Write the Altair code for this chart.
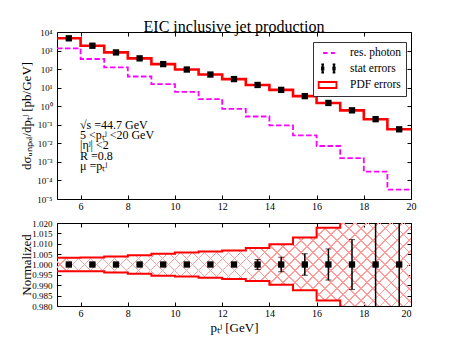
import altair as alt
import pandas as pd

bin_lo = [5, 6, 7, 8, 9, 10, 11, 12, 13, 14, 15, 16, 17, 18, 19]
bin_hi = [6, 7, 8, 9, 10, 11, 12, 13, 14, 15, 16, 17, 18, 19, 20]
bin_mid = [5.5, 6.5, 7.5, 8.5, 9.5, 10.5, 11.5, 12.5, 13.5, 14.5, 15.5, 16.5, 17.5, 18.5, 19.5]
xsec = [4570, 1820, 794, 380, 186, 95, 51, 29, 14, 7.6, 3.5, 1.5, 0.6, 0.2, 0.057]
res_photon = [1300, 350, 123, 40, 15.5, 5.9, 2.4, 0.72, 0.28, 0.093, 0.027, 0.0072, 0.0016, 0.0003, 0.000032]
pdf_up = [0.0032, 0.0034, 0.0038, 0.0045, 0.0052, 0.0058, 0.0063, 0.0067, 0.008, 0.0097, 0.013, 0.0177, 0.022, 0.022, 0.022]
pdf_dn = [0.0032, 0.0033, 0.0039, 0.0045, 0.0054, 0.0058, 0.0064, 0.007, 0.008, 0.0097, 0.0124, 0.0174, 0.022, 0.022, 0.022]
stat_err = [0.0001, 0.0001, 0.0002, 0.0002, 0.0003, 0.0004, 0.0006, 0.001, 0.0024, 0.0035, 0.0052, 0.0075, 0.012, 0.05, 0.08]

x_ticks = [6, 8, 10, 12, 14, 16, 18, 20]
y_ticks_top = [1e-5, 1e-4, 1e-3, 1e-2, 1e-1, 1e0, 1e1, 1e2, 1e3, 1e4]
y_ticks_norm = [0.980, 0.985, 0.990, 0.995, 1.000, 1.005, 1.010, 1.015, 1.020]
series = ["res. photon", "stat errors", "PDF errors"]
series_colors = ["#ff00ff", "#000000", "#ff0000"]
info_lines = ["\u221as =44.7 GeV", "5 <p\u209c\u02b2 <20 GeV", "|\u03b7\u02b2| <2", "R =0.8", "\u03bc =p\u209c\u02b2"]
title_text = "EIC inclusive jet production"

FONT = "Liberation Serif"
W_TOP, H_TOP, H_BOT = 354, 167, 83
SYM_SIZE = 144
SYM_SCALE = 9.0  # px per path unit as rendered in the legend


# ---- styling helpers (legend symbols, hatch pattern) ----
def _seg(x1, y1, x2, y2):
    k = SYM_SCALE
    return "M%.3f,%.3fL%.3f,%.3f" % (x1 / k, y1 / k, x2 / k, y2 / k)


def _stat_sym(cx):
    p = ""
    for yy in (-1.8, -0.6, 0.6, 1.8):
        p += _seg(cx - 2.5, yy, cx + 2.5, yy)
    p += _seg(cx, -6, cx, 6)
    p += _seg(cx - 2, -6, cx + 2, -6)
    p += _seg(cx - 2, 6, cx + 2, 6)
    return p


def _box(x1, y1, x2, y2):
    k = SYM_SCALE
    return "M%.3f,%.3fL%.3f,%.3fL%.3f,%.3fL%.3f,%.3fZ" % (
        x1 / k, y1 / k, x2 / k, y1 / k, x2 / k, y2 / k, x1 / k, y2 / k)


sym_paths = [
    _seg(-1.3, 0, 5.3, 0) + _seg(10.3, 0, 16.3, 0),
    _stat_sym(-2) + _stat_sym(15),
    _box(-8, -4.5, 18.7, 4.5),
]


def hatch(direction, bw, bh, period=12.0, frac=0.12, col="#ff9c9c"):
    s = (bw + bh) * bw / (bw * bw + bh * bh)
    n = int(round((bw * bw + bh * bh) / bw * s / period))
    stops = []
    clear = "rgba(255,255,255,0)"
    for k in range(n):
        a = k / n
        b = (k + frac) / n
        stops += [alt.GradientStop(offset=a, color=col), alt.GradientStop(offset=b, color=col),
                  alt.GradientStop(offset=b, color=clear), alt.GradientStop(offset=(k + 1) / n, color=clear)]
    if direction == 1:
        return alt.LinearGradient(gradient="linear", stops=stops, x1=0, y1=1, x2=s, y2=1 - s * bh / bw)
    return alt.LinearGradient(gradient="linear", stops=stops, x1=0, y1=0, x2=s, y2=s * bh / bw)


step = pd.DataFrame({
    "x": bin_lo + [bin_hi[-1]],
    "xsec": xsec + [xsec[-1]],
    "res": res_photon + [res_photon[-1]],
    "up": [1 + u for u in pdf_up] + [1 + pdf_up[-1]],
    "dn": [1 - d for d in pdf_dn] + [1 - pdf_dn[-1]],
})
pts = pd.DataFrame({
    "x": bin_mid,
    "xsec": xsec,
    "one": [1.0] * len(bin_mid),
    "lo": [1 - e for e in stat_err],
    "hi": [1 + e for e in stat_err],
})

xscale = alt.Scale(domain=[5, 20], nice=False, zero=False)
xaxis = alt.Axis(values=x_ticks, title=None, labelFontSize=10, labelPadding=2,
                 offset=-4, tickSize=4, domain=False, grid=False, labelFlush=False)
x_mirror = alt.Axis(orient="top", values=x_ticks, title=None, labels=False, offset=-4, tickSize=4,
                    domain=False, grid=False)

top_y_axis = alt.Axis(
    values=y_ticks_top,
    title="d\u03c3\u1d64\u2099\u209a\u2092\u2097/dp\u209c\u02b2 [pb/GeV]",
    labelExpr="'10' + (round(log(datum.value)/LN10) < 0 ? '\u207b' : '') + "
              "['\u2070','\u00b9','\u00b2','\u00b3','\u2074','\u2075','\u2076','\u2077','\u2078','\u2079'][abs(round(log(datum.value)/LN10))]",
    labelFontSize=9, labelPadding=5, offset=-4, tickSize=4, domain=False, grid=False,
    minExtent=25, maxExtent=25, titlePadding=3, titleFontSize=13,
)
top_y_mirror = alt.Axis(orient="right", values=y_ticks_top, title=None, labels=False, offset=-4,
                        tickSize=4, domain=False, grid=False, minExtent=0, maxExtent=0)
top_yscale = alt.Scale(type="log", domain=[1e-5, 1e4], nice=False)

red_line = alt.Chart(step).mark_line(interpolate="step-after", color="#ff0000", strokeWidth=2.6).encode(
    x=alt.X("x:Q", scale=xscale, axis=xaxis),
    y=alt.Y("xsec:Q", scale=top_yscale, axis=top_y_axis),
)
mag_line = alt.Chart(step).mark_line(interpolate="step-after", color="#ff00ff", strokeWidth=1.8,
                                     strokeDash=[5.5, 2.5]).encode(
    x=alt.X("x:Q", axis=None), y=alt.Y("res:Q", axis=None))
top_sq = alt.Chart(pts).mark_square(size=40, color="black", opacity=1).encode(
    x=alt.X("x:Q", axis=x_mirror), y=alt.Y("xsec:Q", axis=top_y_mirror))
info = alt.Chart(pd.DataFrame({"a": [0]})).mark_text(
    align="left", baseline="top", font=FONT, fontSize=12, lineHeight=10.2, color="black"
).encode(x=alt.value(23), y=alt.value(88), text=alt.value(info_lines))

leg_params = dict(title=None, orient="none", legendX=256, legendY=10, labelFont=FONT, labelFontSize=11.5,
                  symbolSize=SYM_SIZE, symbolStrokeWidth=1.8, symbolOpacity=1, rowPadding=1.5,
                  padding=4, strokeColor="#333333", fillColor="white", labelOffset=19,
                  labelLimit=200, cornerRadius=0)
leg = alt.Chart(pd.DataFrame({"s": series})).mark_point(filled=False, clip=True, opacity=1).encode(
    x=alt.value(-60), y=alt.value(-60),
    color=alt.Color("s:N", scale=alt.Scale(domain=series, range=series_colors), legend=alt.Legend(**leg_params)),
    shape=alt.Shape("s:N", scale=alt.Scale(domain=series, range=sym_paths), legend=alt.Legend(**leg_params)),
)

top = alt.layer(red_line, mag_line, top_sq, info, leg).resolve_axis(x="independent", y="independent").properties(
    width=W_TOP, height=H_TOP,
    title=alt.TitleParams(title_text, font=FONT, fontSize=16, fontWeight="normal", offset=-7,
                          frame="group", anchor="middle", color="black"),
)

# ---- bottom panel ----
bot_yscale = alt.Scale(domain=[0.98, 1.02], nice=False, zero=False)
bot_y_axis = alt.Axis(values=y_ticks_norm, format=".3f", title="Normalized", labelFontSize=9,
                      labelPadding=5, offset=-4, tickSize=4, domain=False, grid=False,
                      minExtent=25, maxExtent=25, titlePadding=3, titleFontSize=13)
bot_y_mirror = alt.Axis(orient="right", values=y_ticks_norm, title=None, labels=False, offset=-4,
                        tickSize=4, domain=False, grid=False, minExtent=0, maxExtent=0)
bot_xaxis = alt.Axis(values=x_ticks, title="p\u209c\u02b2 [GeV]", labelFontSize=10, labelPadding=2,
                     offset=-4, tickSize=4, domain=False, grid=False, titleFontSize=13, titlePadding=3)

band_h = H_BOT * (max(pdf_up) + max(pdf_dn)) / 0.04
band = alt.Chart(step).mark_area(interpolate="step-after", fill=hatch(1, W_TOP, band_h), clip=True).encode(
    x=alt.X("x:Q", scale=xscale, axis=bot_xaxis),
    y=alt.Y("up:Q", scale=bot_yscale, axis=bot_y_axis),
    y2="dn:Q",
)
band2 = alt.Chart(step).mark_area(interpolate="step-after", fill=hatch(2, W_TOP, band_h), clip=True).encode(
    x=alt.X("x:Q", axis=None), y=alt.Y("up:Q", axis=None), y2="dn:Q")
band_up = alt.Chart(step).mark_line(interpolate="step-after", color="#ff0000", strokeWidth=2, clip=True).encode(
    x=alt.X("x:Q", axis=None), y=alt.Y("up:Q", axis=None))
band_dn = alt.Chart(step).mark_line(interpolate="step-after", color="#ff0000", strokeWidth=2, clip=True).encode(
    x=alt.X("x:Q", axis=None), y=alt.Y("dn:Q", axis=None))
err = alt.Chart(pts).mark_rule(color="black", strokeWidth=1.5, clip=True).encode(
    x=alt.X("x:Q", axis=None), y=alt.Y("lo:Q", axis=None), y2="hi:Q")
cap_lo = alt.Chart(pts).mark_tick(color="black", orient="horizontal", size=6, thickness=1, clip=True).encode(
    x=alt.X("x:Q", axis=None), y=alt.Y("lo:Q", axis=None))
cap_hi = alt.Chart(pts).mark_tick(color="black", orient="horizontal", size=6, thickness=1, clip=True).encode(
    x=alt.X("x:Q", axis=None), y=alt.Y("hi:Q", axis=None))
bot_sq = alt.Chart(pts).mark_square(size=40, color="black", opacity=1).encode(
    x=alt.X("x:Q", axis=x_mirror), y=alt.Y("one:Q", axis=bot_y_mirror))

bottom = alt.layer(band, band2, band_up, band_dn, err, cap_lo, cap_hi, bot_sq).resolve_axis(
    x="independent", y="independent").properties(width=W_TOP, height=H_BOT)

chart = alt.vconcat(top, bottom, spacing=6).properties(
    padding={"left": 11, "top": 10, "right": 5, "bottom": 2}
).configure(font=FONT).configure_view(stroke="black", strokeWidth=1).configure_axis(
    labelFont=FONT, titleFont=FONT, labelColor="black", titleColor="black", tickColor="black",
    titleFontWeight="normal"
)

chart.save("out.html", embed_options={"renderer": "svg", "actions": False})
